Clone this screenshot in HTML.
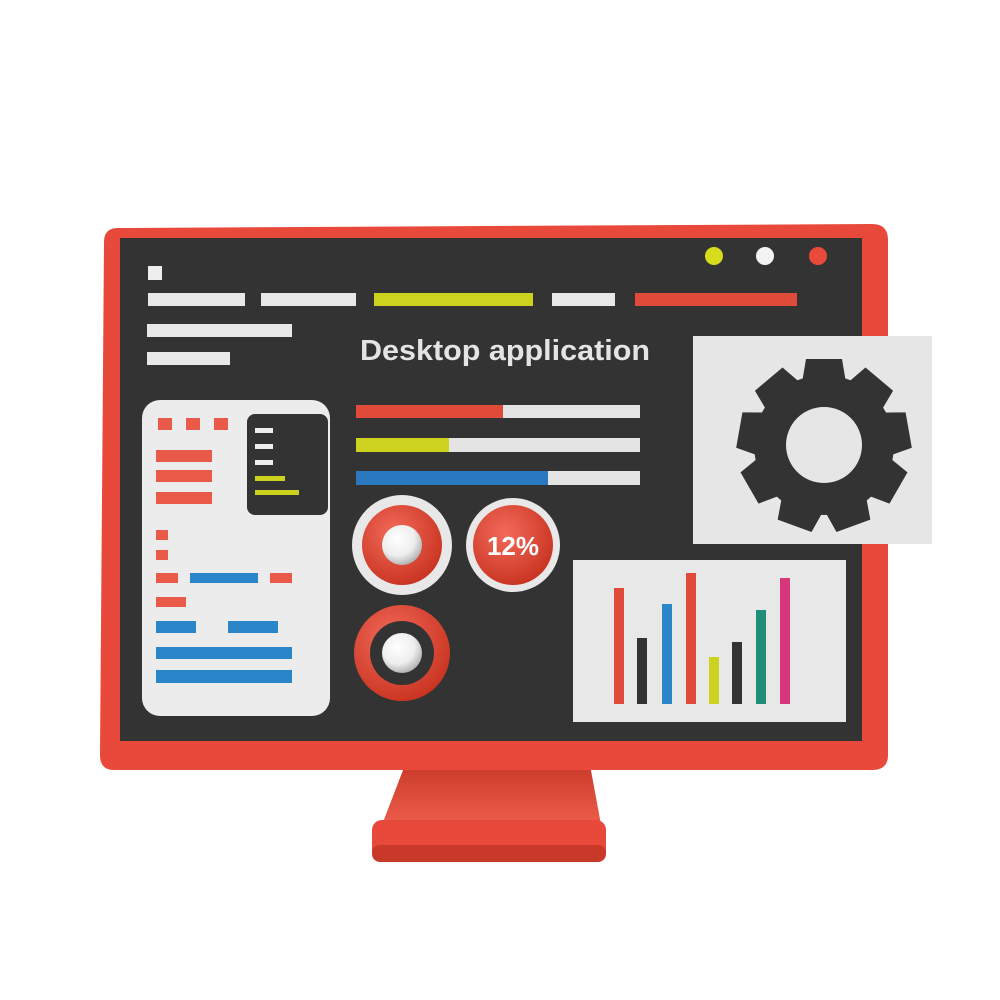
<!DOCTYPE html>
<html><head><meta charset="utf-8"><style>html,body{margin:0;padding:0;background:#fff}svg{display:block}</style></head>
<body>
<svg width="1000" height="1000" viewBox="0 0 1000 1000" xmlns="http://www.w3.org/2000/svg">
<defs>
<radialGradient id="ball" cx="40%" cy="35%" r="70%"><stop offset="0" stop-color="#fff"/><stop offset="0.6" stop-color="#eee"/><stop offset="1" stop-color="#aaa"/></radialGradient>
<radialGradient id="redb" cx="40%" cy="35%" r="70%"><stop offset="0" stop-color="#f26a5a"/><stop offset="1" stop-color="#c8321f"/></radialGradient>
<linearGradient id="stand" x1="0" y1="0" x2="0" y2="1"><stop offset="0" stop-color="#c93a2a"/><stop offset="1" stop-color="#f0604d"/></linearGradient>
</defs>
<path d="M405 765 L590 765 L602 830 L380 830 Z" fill="url(#stand)"/>
<rect x="372" y="820" width="234" height="42" rx="10" fill="#e8493a"/>
<rect x="372" y="845" width="234" height="17" rx="8" fill="#c9392a"/>
<path d="M118 228 L872 224 Q888 224 888 240 L888 755 Q888 770 872 770 L114 770 Q100 770 100 755 L104 242 Q104 228 118 228 Z" fill="#e8493a"/>
<rect x="120" y="238" width="742" height="503" fill="#333333"/>
<circle cx="714" cy="256" r="9" fill="#d8dc1e"/>
<circle cx="765" cy="256" r="9" fill="#f3f3f3"/>
<circle cx="818" cy="256" r="9" fill="#e8493a"/>
<rect x="148" y="266" width="14" height="14" fill="#eee"/>
<rect x="148" y="293" width="97" height="13" fill="#e8e8e8"/>
<rect x="261" y="293" width="95" height="13" fill="#e8e8e8"/>
<rect x="374" y="293" width="159" height="13" fill="#cdd21e"/>
<rect x="552" y="293" width="63" height="13" fill="#e8e8e8"/>
<rect x="635" y="293" width="162" height="13" fill="#e04a38"/>
<rect x="147" y="324" width="145" height="13" fill="#e8e8e8"/>
<rect x="147" y="352" width="83" height="13" fill="#e8e8e8"/>
<text x="360" y="360" textLength="290" lengthAdjust="spacingAndGlyphs" font-family="Liberation Sans, sans-serif" font-weight="bold" font-size="29" fill="#e4e4e4">Desktop application</text>
<rect x="142" y="400" width="188" height="316" rx="18" fill="#ececec"/>
<rect x="158" y="418" width="14" height="12" fill="#ea5a48"/>
<rect x="186" y="418" width="14" height="12" fill="#ea5a48"/>
<rect x="214" y="418" width="14" height="12" fill="#ea5a48"/>
<rect x="247" y="414" width="81" height="101" rx="8" fill="#333"/>
<rect x="255" y="428" width="18" height="5" fill="#eee"/>
<rect x="255" y="444" width="18" height="5" fill="#eee"/>
<rect x="255" y="460" width="18" height="5" fill="#eee"/>
<rect x="255" y="476" width="30" height="5" fill="#cdd21e"/>
<rect x="255" y="490" width="44" height="5" fill="#cdd21e"/>
<rect x="156" y="450" width="56" height="12" fill="#ea5a48"/>
<rect x="156" y="470" width="56" height="12" fill="#ea5a48"/>
<rect x="156" y="492" width="56" height="12" fill="#ea5a48"/>
<rect x="156" y="530" width="12" height="10" fill="#ea5a48"/>
<rect x="156" y="550" width="12" height="10" fill="#ea5a48"/>
<rect x="156" y="573" width="22" height="10" fill="#ea5a48"/>
<rect x="190" y="573" width="68" height="10" fill="#2a86c8"/>
<rect x="270" y="573" width="22" height="10" fill="#ea5a48"/>
<rect x="156" y="597" width="30" height="10" fill="#ea5a48"/>
<rect x="156" y="621" width="40" height="12" fill="#2a86c8"/>
<rect x="228" y="621" width="50" height="12" fill="#2a86c8"/>
<rect x="156" y="647" width="136" height="12" fill="#2a86c8"/>
<rect x="156" y="670" width="136" height="13" fill="#2a86c8"/>
<rect x="356" y="405" width="284" height="13" fill="#e4e4e4"/><rect x="356" y="405" width="147" height="13" fill="#e04a38"/>
<rect x="356" y="438" width="284" height="14" fill="#e4e4e4"/><rect x="356" y="438" width="93" height="14" fill="#cdd21e"/>
<rect x="356" y="471" width="284" height="14" fill="#e4e4e4"/><rect x="356" y="471" width="192" height="14" fill="#2a78c0"/>
<circle cx="402" cy="545" r="50" fill="#e8e8e8"/>
<circle cx="402" cy="545" r="40" fill="url(#redb)"/>
<circle cx="402" cy="545" r="20" fill="url(#ball)"/>
<circle cx="513" cy="545" r="47" fill="#e8e8e8"/>
<circle cx="513" cy="545" r="40" fill="url(#redb)"/>
<text x="513" y="555" text-anchor="middle" font-family="Liberation Sans, sans-serif" font-weight="bold" font-size="26" fill="#fff">12%</text>
<circle cx="402" cy="653" r="48" fill="url(#redb)"/>
<circle cx="402" cy="653" r="32" fill="#333"/>
<circle cx="402" cy="653" r="20" fill="url(#ball)"/>
<rect x="693" y="336" width="239" height="208" fill="#e6e6e6"/>
<g transform="translate(824,445)" fill="#333">
<circle r="70"/>
<g id="t"><path d="M-18 -86 L18 -86 L22 -62 L-22 -62 Z"/></g>
<use href="#t" transform="rotate(40)"/><use href="#t" transform="rotate(80)"/><use href="#t" transform="rotate(120)"/><use href="#t" transform="rotate(160)"/><use href="#t" transform="rotate(200)"/><use href="#t" transform="rotate(240)"/><use href="#t" transform="rotate(280)"/><use href="#t" transform="rotate(320)"/>
<circle r="38" fill="#e6e6e6"/>
</g>
<rect x="573" y="560" width="273" height="162" fill="#e8e8e8"/>
<rect x="614" y="588" width="10" height="116" fill="#e04a38"/>
<rect x="637" y="638" width="10" height="66" fill="#333"/>
<rect x="662" y="604" width="10" height="100" fill="#2a86c8"/>
<rect x="686" y="573" width="10" height="131" fill="#e04a38"/>
<rect x="709" y="657" width="10" height="47" fill="#cdd21e"/>
<rect x="732" y="642" width="10" height="62" fill="#333"/>
<rect x="756" y="610" width="10" height="94" fill="#1f8f7a"/>
<rect x="780" y="578" width="10" height="126" fill="#d8367a"/>
</svg>
</body></html>
